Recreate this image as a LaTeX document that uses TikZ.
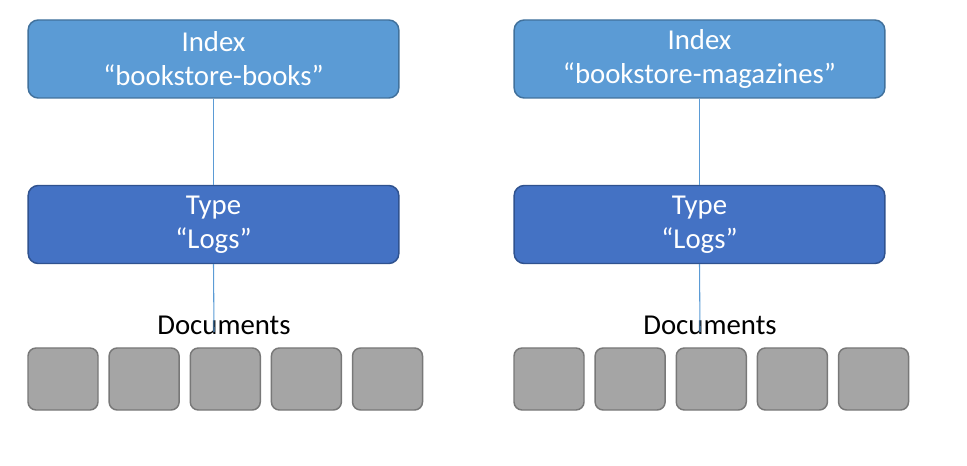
\documentclass[tikz,border=0pt]{standalone}
\usepackage{fontspec}
\setmainfont{Carlito}
\usepackage{tikz}
\usetikzlibrary{positioning}
\definecolor{index-blue}{HTML}{5B9BD5}
\definecolor{index-edge}{HTML}{41719C}
\definecolor{type-blue}{HTML}{4472C4}
\definecolor{type-edge}{HTML}{2F528F}
\definecolor{doc-gray}{HTML}{A5A5A5}
\definecolor{doc-edge}{HTML}{787878}
\tikzset{
  indexbox/.style={draw=index-edge, fill=index-blue, line width=1.1pt,
    rounded corners=7.5pt, minimum width=278pt, minimum height=58.5pt,
    align=center, text=white, font=\fontsize{21.6}{25.5}\selectfont},
  typebox/.style={indexbox, draw=type-edge, fill=type-blue},
  docbox/.style={draw=doc-edge, fill=doc-gray, line width=1.1pt,
    rounded corners=6pt, minimum width=52.5pt, minimum height=46.5pt,
    inner sep=0pt},
  doclabel/.style={font=\fontsize{21.6}{25.5}\selectfont},
  link/.style={draw=index-blue, line width=0.8pt}
}

\begin{document}
\begin{tikzpicture}[x=0.75pt, y=-0.75pt, node distance=7.25pt]
\useasboundingbox (0, 0) rectangle (967, 466);

% ---------------------------------------------------
% Left - bookstore-books
\coordinate[] (lend) at (214, 332);
\node[indexbox] (lindex) at (213.5, 59) {Index\\“bookstore-books”};
\node[typebox] (ltype) at (213.5, 224.5) {Type\\“Logs”};
\node[doclabel] (ldocs) at (224, 325) {Documents};
\draw[link] (lindex.south) -- (ltype.north);
\draw[link] (ltype.south) -- (lend);
% Documents
\node[docbox] (ld1) at (63, 379) {};
\node[docbox, right=of ld1] (ld2) {};
\node[docbox, right=of ld2] (ld3) {};
\node[docbox, right=of ld3] (ld4) {};
\node[docbox, right=of ld4] (ld5) {};

% ---------------------------------------------------
% Right - bookstore-magazines
\coordinate[] (rend) at (700, 332);
\node[indexbox] (rindex) at (699.5, 59) {Index\\“bookstore-magazines”};
\node[typebox] (rtype) at (699.5, 224.5) {Type\\“Logs”};
\node[doclabel] (rdocs) at (710, 325) {Documents};
\draw[link] (rindex.south) -- (rtype.north);
\draw[link] (rtype.south) -- (rend);
% Documents
\node[docbox] (rd1) at (549, 379) {};
\node[docbox, right=of rd1] (rd2) {};
\node[docbox, right=of rd2] (rd3) {};
\node[docbox, right=of rd3] (rd4) {};
\node[docbox, right=of rd4] (rd5) {};
% ---------------------------------------------------
\end{tikzpicture}
\end{document}
